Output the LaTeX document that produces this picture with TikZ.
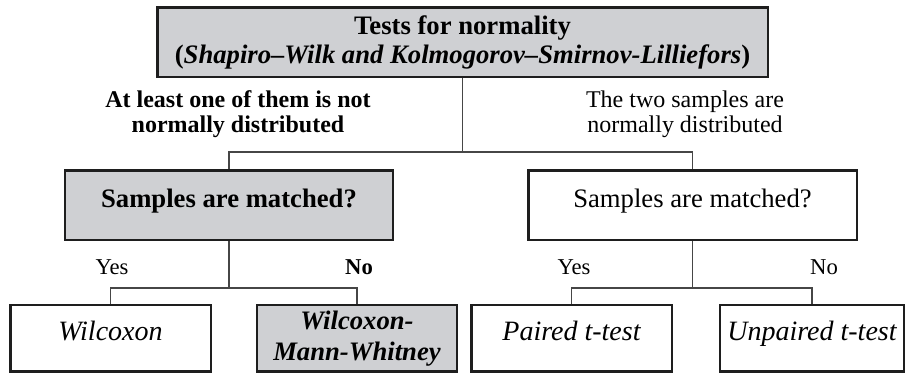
\documentclass[tikz,border=0pt]{standalone}
\usepackage{fontspec}
\setmainfont{Liberation Serif}
\usepackage{tikz}
\usetikzlibrary{calc}

\definecolor{boxgray}{RGB}{207,208,211}
\definecolor{boxline}{RGB}{30,30,30}
\definecolor{linkgray}{RGB}{70,70,70}

\tikzset{
  testbox/.style={draw=boxline, line width=2pt, inner sep=0pt, align=center},
  graybox/.style={testbox, fill=boxgray},
  whitebox/.style={testbox, fill=white},
  oneline/.style={text height=0.58em, text depth=0.34em},
  link/.style={draw=linkgray, line width=0.8pt},
  lbl/.style={inner sep=0.75pt, align=center, font=\fontsize{18}{18.75}\selectfont},
  yesno/.style={inner sep=0.75pt, font=\fontsize{17}{18}\selectfont},
}

\begin{document}
\begin{tikzpicture}[x=0.75pt,y=0.75pt,yscale=-1,xscale=1]
\useasboundingbox (0,0) rectangle (907,373);

% Boxes
\node[graybox, minimum width=458pt, minimum height=52pt, font=\fontsize{20}{21.75}\selectfont\bfseries] (normtest) at (462.5,42.5) {Tests for normality\\(\textit{Shapiro–Wilk and Kolmogorov–Smirnov-Lilliefors})};
\node[graybox, oneline, minimum width=246pt, minimum height=52pt, font=\fontsize{20}{22}\selectfont\bfseries] (matchL) at (229,205.5) {Samples are matched?};
\node[whitebox, oneline, minimum width=246.5pt, minimum height=52pt, font=\fontsize{20}{22}\selectfont] (matchR) at (692.5,205.5) {Samples are matched?};

\node[whitebox, oneline, minimum width=150.5pt, minimum height=50pt, font=\fontsize{21}{22}\selectfont\itshape] (wilcox) at (110.5,338.5) {Wilcoxon};
\node[graybox, minimum width=150pt, minimum height=50pt, font=\fontsize{20}{23}\selectfont\bfseries\itshape] (wmw) at (357,338.5) {Wilcoxon-\\Mann-Whitney};
\node[whitebox, oneline, minimum width=150.5pt, minimum height=50pt, font=\fontsize{21}{22}\selectfont\itshape] (paired) at (571.5,338.5) {Paired t-test};
\node[whitebox, oneline, minimum width=138pt, minimum height=50pt, font=\fontsize{21}{22}\selectfont\itshape] (unpaired) at (812,338.5) {Unpaired t-test};

% Branch points
\coordinate (split) at (462.5,152);
\coordinate (lsplit) at (229,288);
\coordinate (rsplit) at (692.5,288);

% Connectors
\draw[link] (normtest.south) -- (split);
\draw[link] (matchL.north) |- (split) -| (matchR.north);
\draw[link] (matchL.south) -- (lsplit);
\draw[link] (wilcox.north) |- (lsplit) -| (wmw.north);
\draw[link] (matchR.south) -- (rsplit);
\draw[link] (paired.north) |- (rsplit) -| (unpaired.north);

% Text Node
\node[lbl, font=\fontsize{18}{18.75}\selectfont\bfseries] (nonnormal) at (238,114.5) {At least one of them is not\\normally distributed};
% Text Node
\node[lbl] (normal) at (685,114.5) {The two samples are\\normally distributed};
% Text Node
\node[yesno] (yesL) at (112,267) {Yes};
\node[yesno, font=\fontsize{17}{18}\selectfont\bfseries] (noL) at (359,267) {No};
\node[yesno] (yesR) at (574,267) {Yes};
\node[yesno] (noR) at (824,267) {No};

\end{tikzpicture}
\end{document}
